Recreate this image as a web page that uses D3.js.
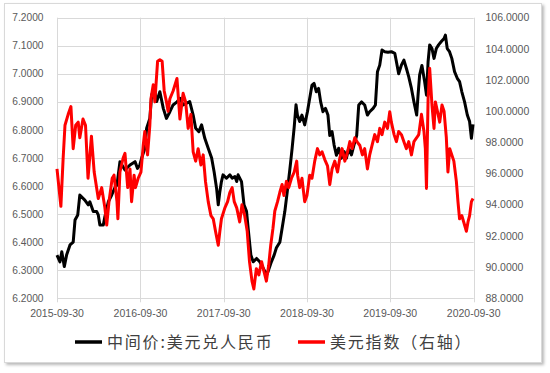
<!DOCTYPE html>
<html>
<head>
<meta charset="utf-8">
<script src="https://cdn.jsdelivr.net/npm/d3@7"></script>
<style>
  body { margin: 0; background: #fff; }
  .tick-label { font-family: "Liberation Sans", Arial, sans-serif; fill: #595959; }
  .legend-text { font-family: "Noto Sans CJK SC", sans-serif; fill: #404040; }
</style>
</head>
<body>
<svg id="chart" width="550" height="373"></svg>
<script>
// USD/CNY central parity (left axis)
const blackDates = ["2015-09-30","2015-10-13","2015-10-21","2015-11-01","2015-11-11","2015-11-26","2015-12-10","2015-12-18","2015-12-30",
  "2016-01-08","2016-01-30","2016-02-14","2016-02-21","2016-03-07","2016-03-22","2016-03-29","2016-04-05","2016-04-20","2016-04-27",
  "2016-05-12","2016-05-27","2016-06-10","2016-06-19","2016-07-02","2016-07-24","2016-08-15","2016-09-06","2016-09-17","2016-09-27",
  "2016-10-05","2016-10-19","2016-10-27","2016-11-10","2016-11-18","2016-11-29","2016-12-10","2016-12-24","2017-01-08","2017-01-22",
  "2017-02-06","2017-02-20","2017-03-09","2017-03-22","2017-04-05","2017-04-20","2017-05-04","2017-05-19","2017-05-30","2017-06-13",
  "2017-06-25","2017-07-09","2017-07-24","2017-08-08","2017-08-19","2017-08-30","2017-09-06","2017-09-13","2017-09-20","2017-09-27",
  "2017-10-12","2017-10-27","2017-11-06","2017-11-18","2017-11-26","2017-12-02","2017-12-17","2017-12-28","2018-01-08","2018-01-15",
  "2018-01-27","2018-02-06","2018-02-21","2018-03-07","2018-03-22","2018-04-06","2018-04-12","2018-04-27","2018-05-09","2018-05-19",
  "2018-06-03","2018-06-13","2018-06-25","2018-07-07","2018-07-17","2018-07-27","2018-08-05","2018-08-13","2018-08-19","2018-08-29",
  "2018-09-08","2018-09-20","2018-10-02","2018-10-12","2018-10-22","2018-10-31","2018-11-10","2018-11-20","2018-11-29","2018-12-09",
  "2018-12-20","2018-12-31","2019-01-08","2019-01-18","2019-01-27","2019-02-06","2019-02-16","2019-02-28","2019-03-12","2019-03-22",
  "2019-04-01","2019-04-13","2019-04-24","2019-05-06","2019-05-15","2019-05-27","2019-06-10","2019-06-22","2019-07-02","2019-07-17",
  "2019-07-27","2019-08-05","2019-08-15","2019-08-25","2019-09-06","2019-09-20","2019-10-05","2019-10-20","2019-10-27","2019-11-06",
  "2019-11-18","2019-11-29","2019-12-10","2019-12-20","2020-01-01","2020-01-12","2020-01-24","2020-01-30","2020-02-06","2020-02-16",
  "2020-02-28","2020-03-07","2020-03-14","2020-03-21","2020-03-31","2020-04-09","2020-04-19","2020-04-29","2020-05-11","2020-05-23",
  "2020-05-29","2020-06-06","2020-06-16","2020-06-26","2020-07-08","2020-07-20","2020-07-30","2020-08-09","2020-08-21","2020-09-02",
  "2020-09-12","2020-09-20","2020-09-27"];
const blackValues = [6.354,6.33,6.366,6.313,6.354,6.39,6.40,6.479,6.497,
  6.568,6.55,6.533,6.544,6.509,6.509,6.497,6.461,6.461,6.491,
  6.544,6.568,6.595,6.604,6.687,6.657,6.675,6.687,6.663,6.675,
  6.699,6.734,6.806,6.841,6.924,6.948,6.901,6.936,6.877,6.841,
  6.865,6.889,6.90,6.913,6.889,6.895,6.901,6.853,6.806,6.794,
  6.818,6.77,6.735,6.70,6.65,6.59,6.533,6.58,6.616,6.64,
  6.628,6.64,6.628,6.634,6.616,6.64,6.616,6.533,6.51,6.45,
  6.354,6.33,6.342,6.33,6.307,6.283,6.295,6.33,6.354,6.38,
  6.40,6.45,6.51,6.59,6.66,6.735,6.81,6.89,6.853,6.83,
  6.853,6.818,6.865,6.913,6.96,6.966,6.936,6.948,6.90,6.865,
  6.877,6.853,6.78,6.794,6.746,6.71,6.735,6.699,6.723,6.699,
  6.735,6.711,6.746,6.78,6.889,6.90,6.889,6.853,6.865,6.877,
  6.889,7.007,7.031,7.085,7.079,7.077,7.079,7.073,7.044,7.00,
  7.031,7.049,7.019,6.99,6.948,6.90,6.853,6.924,6.996,7.03,
  6.972,6.924,7.043,7.103,7.09,7.055,7.09,7.103,7.115,7.126,
  7.138,7.09,7.079,7.055,7.008,6.984,6.972,6.936,6.90,6.853,
  6.83,6.77,6.82];

// US dollar index (right axis)
const redDates = ["2015-09-30","2015-10-17","2015-10-27","2015-11-04","2015-11-18","2015-11-30","2015-12-10","2015-12-21","2016-01-01",
  "2016-01-08","2016-01-22","2016-02-02","2016-02-13","2016-02-28","2016-03-11","2016-03-29","2016-04-13","2016-04-27","2016-05-05",
  "2016-05-15","2016-05-29","2016-06-06","2016-06-19","2016-06-23","2016-07-02","2016-07-16","2016-07-24","2016-08-05","2016-08-15",
  "2016-08-22","2016-09-02","2016-09-08","2016-09-20","2016-10-02","2016-10-12","2016-10-19","2016-10-31","2016-11-10","2016-11-15",
  "2016-11-25","2016-12-02","2016-12-14","2016-12-24","2017-01-03","2017-01-12","2017-01-22","2017-01-29","2017-02-06","2017-02-20",
  "2017-03-09","2017-03-22","2017-04-05","2017-04-16","2017-04-27","2017-05-09","2017-05-19","2017-05-30","2017-06-10","2017-06-22",
  "2017-07-02","2017-07-12","2017-07-24","2017-08-05","2017-08-15","2017-08-25","2017-09-06","2017-09-13","2017-09-20","2017-10-05",
  "2017-10-17","2017-10-27","2017-11-06","2017-11-15","2017-11-26","2017-12-09","2017-12-19","2017-12-31","2018-01-11","2018-01-21",
  "2018-02-01","2018-02-09","2018-02-20","2018-03-03","2018-03-15","2018-03-26","2018-04-05","2018-04-15","2018-04-24","2018-05-04",
  "2018-05-12","2018-05-24","2018-06-03","2018-06-13","2018-06-21","2018-07-02","2018-07-12","2018-07-24","2018-08-05","2018-08-16",
  "2018-08-20","2018-08-29","2018-09-08","2018-09-20","2018-09-30","2018-10-12","2018-10-22","2018-11-03","2018-11-15","2018-11-25",
  "2018-12-05","2018-12-17","2018-12-29","2019-01-08","2019-01-18","2019-01-30","2019-02-11","2019-02-21","2019-03-03","2019-03-15",
  "2019-03-27","2019-04-06","2019-04-16","2019-04-28","2019-05-07","2019-05-20","2019-05-31","2019-06-10","2019-06-22","2019-07-02",
  "2019-07-12","2019-07-24","2019-08-05","2019-08-15","2019-08-25","2019-09-06","2019-09-18","2019-09-28","2019-10-05","2019-10-17",
  "2019-10-27","2019-11-06","2019-11-18","2019-11-29","2019-12-10","2019-12-20","2020-01-01","2020-01-12","2020-01-24","2020-02-02",
  "2020-02-14","2020-02-25","2020-03-02","2020-03-07","2020-03-14","2020-03-21","2020-03-31","2020-04-09","2020-04-15","2020-04-24",
  "2020-05-04","2020-05-14","2020-05-23","2020-06-02","2020-06-09","2020-06-17","2020-06-26","2020-07-05","2020-07-16","2020-07-23",
  "2020-07-30","2020-08-09","2020-08-21","2020-08-29","2020-09-05","2020-09-12","2020-09-20","2020-09-27"];
const redValues = [96.3,93.9,97.0,99.1,99.8,100.3,97.6,99.1,99.3,
  98.3,99.5,99.1,95.7,98.4,96.1,94.4,95.1,93.8,92.7,
  94.2,95.7,95.9,94.2,93.1,96.1,97.0,97.3,95.1,96.3,
  94.2,95.9,95.1,95.7,96.1,97.8,98.7,97.2,99.1,100.8,
  101.7,100.6,103.2,103.3,103.2,101.3,100.6,100.0,100.8,101.3,
  102.1,99.5,101.15,100.6,98.9,99.8,97.4,96.8,97.6,96.55,
  97.2,95.5,94.2,93.3,93.1,92.3,91.4,92.3,93.1,93.8,
  94.2,94.8,95.1,94.2,93.8,92.9,94.0,93.3,92.3,90.35,
  89.1,88.6,89.9,89.5,90.35,89.7,89.1,90.1,91.4,92.5,
  93.6,94.2,94.8,95.3,94.6,95.5,95.1,95.7,96.1,96.8,
  95.9,95.1,95.7,94.2,94.6,95.9,95.7,96.8,97.6,97.2,
  97.4,96.9,96.5,95.3,96.3,96.8,96.1,97.0,97.6,96.8,
  97.4,98.05,97.6,98.3,98.05,97.8,97.2,97.6,96.3,97.2,
  97.8,98.5,98.05,98.9,98.5,99.3,98.9,99.97,99.3,98.5,
  98.05,98.7,98.5,98.05,97.6,98.05,97.2,98.05,98.3,98.5,
  99.8,98.7,97.6,95.05,100.8,102.75,100.4,98.9,100.6,100.0,
  99.3,100.4,100.0,98.3,96.1,97.6,97.2,96.8,95.5,94.2,
  93.1,93.3,92.7,92.3,92.9,93.3,94.2,94.4];

const leftTicks = [6.2, 6.3, 6.4, 6.5, 6.6, 6.7, 6.8, 6.9, 7.0, 7.1, 7.2];
const rightTicks = [88, 90, 92, 94, 96, 98, 100, 102, 104, 106];
const xTicks = ["2015-09-30","2016-09-30","2017-09-30","2018-09-30","2019-09-30","2020-09-30"];
const legendNames = ["中间价:美元兑人民币", "美元指数（右轴）"];

const parseDate = d3.timeParse("%Y-%m-%d");
const svg = d3.select("#chart");

// chart frame with soft shadow
const defs = svg.append("defs");
const f = defs.append("filter").attr("id", "shadow")
  .attr("x", "-5%").attr("y", "-5%").attr("width", "110%").attr("height", "110%");
f.append("feDropShadow").attr("dx", 2).attr("dy", 2).attr("stdDeviation", 1.6)
  .attr("flood-color", "#000").attr("flood-opacity", 0.28);
svg.append("rect")
  .attr("x", 4.5).attr("y", 3.5).attr("width", 537).attr("height", 359)
  .attr("fill", "#fff").attr("stroke", "#d9d9d9").attr("stroke-width", 1)
  .attr("filter", "url(#shadow)");

const plotLeft = 57, plotRight = 473.7, plotTop = 17.7, plotBottom = 298.3;

const x = d3.scaleTime()
  .domain([parseDate(xTicks[0]), parseDate(xTicks[xTicks.length - 1])])
  .range([plotLeft, plotRight]);
const yL = d3.scaleLinear().domain([6.2, 7.2]).range([plotBottom, plotTop]);
const yR = d3.scaleLinear().domain([88, 106]).range([plotBottom, plotTop]);

// horizontal gridlines
svg.append("g").selectAll("line").data(leftTicks).join("line")
  .attr("x1", plotLeft).attr("x2", plotRight)
  .attr("y1", d => Math.round(yL(d)) + 0.5).attr("y2", d => Math.round(yL(d)) + 0.5)
  .attr("stroke", "#d9d9d9").attr("stroke-width", 1);

// vertical gridlines + tick marks
svg.append("g").selectAll("line").data(xTicks).join("line")
  .attr("x1", d => Math.round(x(parseDate(d))) + 0.5).attr("x2", d => Math.round(x(parseDate(d))) + 0.5)
  .attr("y1", plotTop).attr("y2", plotBottom + 4)
  .attr("stroke", "#d9d9d9").attr("stroke-width", 1);

// left axis labels
svg.append("g").selectAll("text").data(leftTicks).join("text")
  .attr("class", "tick-label")
  .attr("x", 43.5).attr("y", d => yL(d))
  .attr("dy", "0.35em")
  .attr("text-anchor", "end")
  .style("font-size", "10.2px")
  .text(d => d3.format(".4f")(d));

// right axis labels
svg.append("g").selectAll("text").data(rightTicks).join("text")
  .attr("class", "tick-label")
  .attr("x", 485.5).attr("y", d => yR(d))
  .attr("dy", "0.35em")
  .attr("text-anchor", "start")
  .style("font-size", "10.5px")
  .text(d => d3.format(".4f")(d));

// x axis labels
svg.append("g").selectAll("text").data(xTicks).join("text")
  .attr("class", "tick-label")
  .attr("x", d => x(parseDate(d))).attr("y", 316.5)
  .attr("text-anchor", "middle")
  .style("font-size", "10.5px")
  .text(d => d);

// series lines
const blackData = blackDates.map((d, i) => [parseDate(d), blackValues[i]]);
const redData = redDates.map((d, i) => [parseDate(d), redValues[i]]);

svg.append("path")
  .datum(blackData)
  .attr("fill", "none")
  .attr("stroke", "#000")
  .attr("stroke-width", 3)
  .attr("stroke-linejoin", "round")
  .attr("d", d3.line().x(d => x(d[0])).y(d => yL(d[1])));

svg.append("path")
  .datum(redData)
  .attr("fill", "none")
  .attr("stroke", "#ff0000")
  .attr("stroke-width", 3)
  .attr("stroke-linejoin", "round")
  .attr("d", d3.line().x(d => x(d[0])).y(d => yR(d[1])));

// legend
const legend = svg.append("g").attr("transform", "translate(0, 342)");
const legendItems = [
  { name: legendNames[0], color: "#000", x0: 75 },
  { name: legendNames[1], color: "#ff0000", x0: 298 }
];
legendItems.forEach(item => {
  legend.append("line")
    .attr("x1", item.x0).attr("x2", item.x0 + 27)
    .attr("y1", 0).attr("y2", 0)
    .attr("stroke", item.color).attr("stroke-width", 3.5);
  legend.append("text")
    .attr("class", "legend-text")
    .attr("x", item.x0 + 32).attr("y", 0)
    .attr("dy", "0.36em")
    .style("font-size", "16px")
    .style("letter-spacing", "1.8px")
    .text(item.name);
});
</script>
</body>
</html>
